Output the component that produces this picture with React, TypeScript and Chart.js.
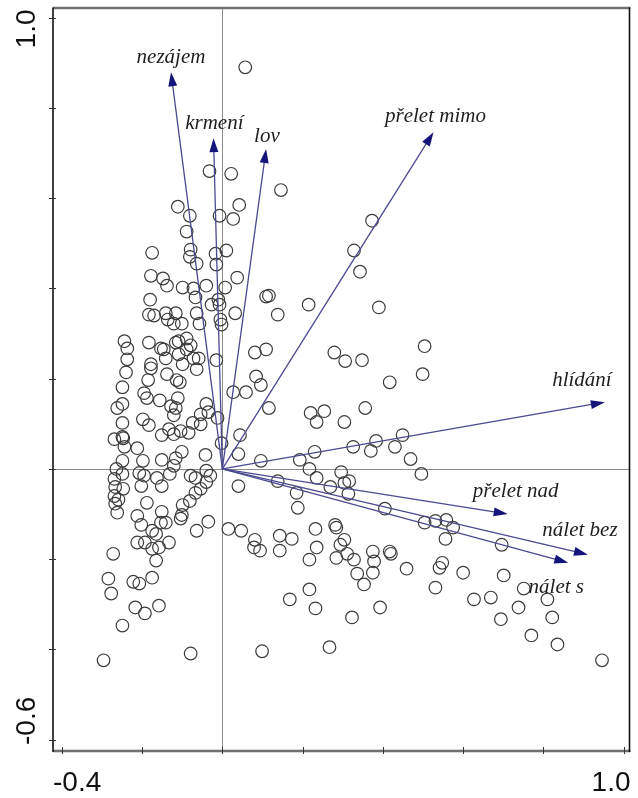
import { useEffect, useRef } from "react";
import { Chart, registerables } from "chart.js";
Chart.register(...registerables);

// Site scores (samples)
const siteX = [
  0.057, -0.032, 0.022, 0.146, -0.111, -0.081, -0.007, 0.042, 0.027, -0.089,
  -0.175, -0.079, -0.081, -0.064, -0.017, 0.010, -0.015, -0.178, -0.148, -0.138,
  -0.099, -0.072, -0.040, 0.007, 0.037, -0.067, -0.180, -0.010, -0.027, -0.007,
  0.109, 0.116, 0.138, -0.183, -0.170, -0.141, -0.116, -0.136, -0.121, -0.101,
  -0.064, -0.057, -0.005, -0.002, 0.032, -0.244, -0.237, -0.183, -0.153, -0.146,
  -0.116, -0.109, -0.089, -0.079, -0.089, 0.081, 0.109, -0.237, -0.178, -0.141,
  -0.109, -0.072, -0.059, -0.015,
  -0.178, -0.099, -0.064, -0.240, -0.185, -0.138, -0.114, -0.106, -0.249, -0.195,
  -0.188, -0.156, -0.111, -0.128, -0.116, -0.121, -0.262, -0.249, 0.027, 0.059,
  0.084, 0.096, 0.116, -0.040, -0.035, -0.054, -0.012, -0.074, -0.054, -0.198,
  -0.183, -0.249, -0.151, -0.133, -0.121, -0.104, -0.084, -0.269, -0.249, -0.247,
  -0.244, -0.212, 0.044, -0.002, 0.040, -0.042, -0.101, -0.116, -0.151, -0.198,
  -0.249, -0.264, -0.249, -0.121, -0.131, -0.207, -0.195, -0.163, -0.151, -0.202,
  -0.079, -0.067, -0.040, -0.030, -0.040, -0.054, -0.067, -0.269, -0.267, -0.247,
  -0.269, -0.259, -0.267, -0.262, -0.188, -0.081, -0.099, -0.151, -0.101, -0.104,
  -0.141, -0.153, -0.212, -0.202, -0.035, -0.064, -0.175, -0.165, -0.133, -0.212,
  -0.193, -0.175, -0.158, -0.165, -0.272, 0.015, 0.047, 0.081, 0.079, 0.094,
  0.143, 0.143, 0.096, 0.040, 0.138, -0.284, -0.277, -0.222, -0.207, -0.175,
  -0.217, -0.193, -0.158, -0.249, -0.296, -0.079, 0.099,
  0.373, 0.328, 0.343, 0.215, 0.390, 0.504, 0.279, 0.306, 0.348,
  0.417, 0.499, 0.220, 0.254, 0.235, 0.304, 0.356, 0.230, 0.193, 0.326,
  0.370, 0.383, 0.430, 0.449, 0.469, 0.496, 0.217, 0.235, 0.296, 0.304,
  0.316, 0.269, 0.314, 0.185, 0.188, 0.405, 0.504, 0.531, 0.558, 0.575,
  0.556, 0.232, 0.281, 0.284, 0.173, 0.235, 0.304, 0.294, 0.217, 0.284,
  0.311, 0.328, 0.375, 0.378, 0.375, 0.336, 0.417, 0.420, 0.353, 0.459,
  0.548, 0.541, 0.531, 0.217, 0.168, 0.232, 0.323, 0.393, 0.267,
  0.696, 0.600, 0.701, 0.751, 0.627, 0.669, 0.810, 0.738, 0.694, 0.822,
  0.770, 0.835, 0.946,
];
const siteY = [
  0.890, 0.660, 0.654, 0.618, 0.581, 0.561, 0.561, 0.585, 0.554, 0.526,
  0.479, 0.486, 0.470, 0.455, 0.477, 0.484, 0.453, 0.428, 0.422, 0.406,
  0.402, 0.400, 0.406, 0.402, 0.424, 0.380, 0.375, 0.375, 0.364, 0.364,
  0.382, 0.384, 0.342, 0.342, 0.340, 0.345, 0.345, 0.331, 0.322, 0.322,
  0.345, 0.322, 0.331, 0.320, 0.345, 0.283, 0.267, 0.280, 0.267, 0.265,
  0.280, 0.283, 0.289, 0.274, 0.265, 0.258, 0.265, 0.243, 0.232, 0.245,
  0.254, 0.245, 0.245, 0.241,
  0.223, 0.232, 0.221, 0.214, 0.197, 0.210, 0.197, 0.192, 0.181, 0.168,
  0.157, 0.152, 0.157, 0.139, 0.135, 0.119, 0.135, 0.144, 0.170, 0.170,
  0.205, 0.186, 0.135, 0.144, 0.126, 0.121, 0.113, 0.102, 0.099, 0.110,
  0.097, 0.102, 0.075, 0.088, 0.077, 0.084, 0.080, 0.066, 0.071, 0.068,
  0.049, 0.046, 0.075, 0.057, 0.033, 0.031, 0.038, 0.024, 0.020, 0.018,
  0.018, 0.000, -0.011, 0.007, -0.011, -0.009, -0.015, -0.020, -0.038, -0.038,
  -0.015, -0.020, -0.004, -0.015, -0.029, -0.044, -0.053, -0.022, -0.040, -0.044,
  -0.060, -0.068, -0.077, -0.097, -0.075, -0.071, -0.080, -0.095, -0.102, -0.110,
  -0.119, -0.119, -0.104, -0.124, -0.117, -0.137, -0.137, -0.144, -0.163, -0.163,
  -0.163, -0.177, -0.174, -0.203, -0.188, -0.133, -0.137, -0.157, -0.174, -0.181,
  -0.148, -0.181, 0.018, -0.038, -0.027, -0.243, -0.276, -0.250, -0.254, -0.241,
  -0.307, -0.320, -0.303, -0.347, -0.424, -0.409, -0.404,
  0.550, 0.484, 0.437, 0.364, 0.358, 0.272, 0.258, 0.239, 0.241,
  0.192, 0.210, 0.124, 0.128, 0.104, 0.104, 0.135, 0.038, 0.020, 0.049,
  0.040, 0.062, 0.049, 0.075, 0.022, -0.011, 0.000, -0.020, -0.007, -0.031,
  -0.027, -0.040, -0.055, -0.053, -0.086, -0.088, -0.119, -0.115, -0.113, -0.130,
  -0.155, -0.133, -0.124, -0.130, -0.155, -0.174, -0.157, -0.168, -0.201, -0.197,
  -0.188, -0.201, -0.183, -0.205, -0.230, -0.232, -0.183, -0.188, -0.256, -0.221,
  -0.208, -0.219, -0.263, -0.267, -0.289, -0.309, -0.329, -0.307, -0.395,
  -0.168, -0.230, -0.236, -0.265, -0.289, -0.285, -0.289, -0.307, -0.333, -0.329,
  -0.369, -0.389, -0.424,
];

// Environmental variables (arrows)
const varNames = ["nezájem", "krmení", "lov", "přelet mimo", "hlídání", "přelet nad", "nálet bez", "nálet s"];
const varX = [-0.128, -0.022, 0.109, 0.526, 0.953, 0.711, 0.911, 0.862];
const varY = [0.879, 0.733, 0.709, 0.746, 0.148, -0.100, -0.190, -0.208];
const labelX = [-0.128, -0.020, 0.111, 0.531, 0.896, 0.731, 0.891, 0.832];
const labelY = [0.899, 0.753, 0.724, 0.769, 0.183, -0.062, -0.148, -0.276];

// Axes
const xTickValues = [-0.4, -0.2, 0, 0.2, 0.4, 0.6, 0.8, 1.0];
const yTickValues = [-0.6, -0.4, -0.2, 0, 0.2, 0.4, 0.6, 0.8, 1.0];
const xTickLabels = ["-0.4", "1.0"];
const yTickLabels = ["-0.6", "1.0"];

const biplotPlugin = {
  id: "biplot",
  beforeDatasetsDraw(chart: any) {
    const { ctx, chartArea: a, scales } = chart;
    const sx = scales.x, sy = scales.y;
    ctx.save();
    ctx.strokeStyle = "#8c8c8c";
    ctx.lineWidth = 1;
    const x0 = Math.round(sx.getPixelForValue(0)) + 0.5;
    const y0 = Math.round(sy.getPixelForValue(0)) + 0.5;
    ctx.beginPath();
    ctx.moveTo(x0, a.top);
    ctx.lineTo(x0, a.bottom);
    ctx.moveTo(a.left, y0);
    ctx.lineTo(a.right, y0);
    ctx.stroke();
    ctx.restore();
  },
  afterDatasetsDraw(chart: any) {
    const { ctx, chartArea: a, scales } = chart;
    const sx = scales.x, sy = scales.y;
    ctx.save();
    const ox = sx.getPixelForValue(0);
    const oy = sy.getPixelForValue(0);
    // arrows
    for (let i = 0; i < varNames.length; i++) {
      const tx = sx.getPixelForValue(varX[i]);
      const ty = sy.getPixelForValue(varY[i]);
      const dx = tx - ox, dy = ty - oy;
      const len = Math.hypot(dx, dy);
      const ux = dx / len, uy = dy / len;
      const hl = 14, hw = 4.5;
      const bx = tx - ux * hl, by = ty - uy * hl;
      ctx.strokeStyle = "#4a4a90";
      ctx.lineWidth = 1.3;
      ctx.beginPath();
      ctx.moveTo(ox, oy);
      ctx.lineTo(bx + ux * 2, by + uy * 2);
      ctx.stroke();
      ctx.fillStyle = "#14147a";
      ctx.beginPath();
      ctx.moveTo(tx, ty);
      ctx.lineTo(bx - uy * hw, by + ux * hw);
      ctx.lineTo(bx + uy * hw, by - ux * hw);
      ctx.closePath();
      ctx.fill();
    }
    // labels
    ctx.fillStyle = "#1e1e1e";
    ctx.font = "italic 21px 'Liberation Serif', 'DejaVu Serif', serif";
    ctx.textAlign = "center";
    ctx.textBaseline = "alphabetic";
    for (let i = 0; i < varNames.length; i++) {
      ctx.fillText(varNames[i], sx.getPixelForValue(labelX[i]), sy.getPixelForValue(labelY[i]));
    }
    // frame
    ctx.lineWidth = 2.5;
    ctx.strokeStyle = "#707070";
    ctx.beginPath();
    ctx.moveTo(a.left, a.top + 0.5);
    ctx.lineTo(a.right, a.top + 0.5);
    ctx.moveTo(a.left, a.bottom);
    ctx.lineTo(a.right, a.bottom);
    ctx.stroke();
    ctx.lineWidth = 1.6;
    ctx.strokeStyle = "#111";
    ctx.beginPath();
    ctx.moveTo(a.left, a.top);
    ctx.lineTo(a.left, a.bottom + 1);
    ctx.moveTo(a.right - 1, a.top);
    ctx.lineTo(a.right - 1, a.bottom + 1);
    ctx.stroke();
    // ticks
    ctx.lineWidth = 1;
    ctx.strokeStyle = "#333";
    ctx.beginPath();
    for (const v of xTickValues) {
      const px = Math.round(sx.getPixelForValue(v)) + 0.5;
      ctx.moveTo(px, a.bottom - 4);
      ctx.lineTo(px, a.bottom + 3);
    }
    for (const v of yTickValues) {
      const py = Math.round(sy.getPixelForValue(v)) + 0.5;
      ctx.moveTo(a.left - 4, py);
      ctx.lineTo(a.left + 3, py);
    }
    ctx.stroke();
    // tick labels
    ctx.fillStyle = "#111";
    ctx.font = "28px 'Liberation Sans', Arial, sans-serif";
    ctx.textBaseline = "alphabetic";
    ctx.textAlign = "left";
    ctx.fillText(xTickLabels[0], a.left, a.bottom + 40);
    ctx.textAlign = "right";
    ctx.fillText(xTickLabels[1], a.right, a.bottom + 40);
    ctx.save();
    ctx.translate(a.left - 18, a.bottom - 6);
    ctx.rotate(-Math.PI / 2);
    ctx.textAlign = "left";
    ctx.fillText(yTickLabels[0], 0, 0);
    ctx.restore();
    ctx.save();
    ctx.translate(a.left - 18, a.top + 2);
    ctx.rotate(-Math.PI / 2);
    ctx.textAlign = "right";
    ctx.fillText(yTickLabels[1], 0, 0);
    ctx.restore();
    ctx.restore();
  },
};

export default function App() {
  const ref = useRef<HTMLCanvasElement>(null);
  useEffect(() => {
    if (!ref.current) return;
    const data = siteX.map((x, i) => ({ x, y: siteY[i] }));
    const chart = new Chart(ref.current, {
      type: "scatter",
      data: {
        datasets: [
          {
            label: "sites",
            data,
            pointRadius: 6.3,
            pointBorderWidth: 1.2,
            borderColor: "#3c3c3c",
            backgroundColor: "rgba(0,0,0,0)",
            pointHoverRadius: 6.3,
          },
        ],
      },
      options: {
        responsive: false,
        animation: false,
        devicePixelRatio: 1,
        layout: { padding: { left: 53, right: 2, top: 5, bottom: 47 } },
        plugins: { legend: { display: false }, tooltip: { enabled: false } },
        scales: {
          x: { type: "linear", min: -0.422, max: 1.017, display: false },
          y: { type: "linear", min: -0.625, max: 1.0225, display: false },
        },
      },
      plugins: [biplotPlugin],
    });
    return () => chart.destroy();
  }, []);
  return (
    <div style={{ position: "absolute", left: 0, top: 0, width: 638, height: 798, background: "#fff" }}>
      <canvas ref={ref} width={638} height={798} style={{ display: "block" }} />
    </div>
  );
}
